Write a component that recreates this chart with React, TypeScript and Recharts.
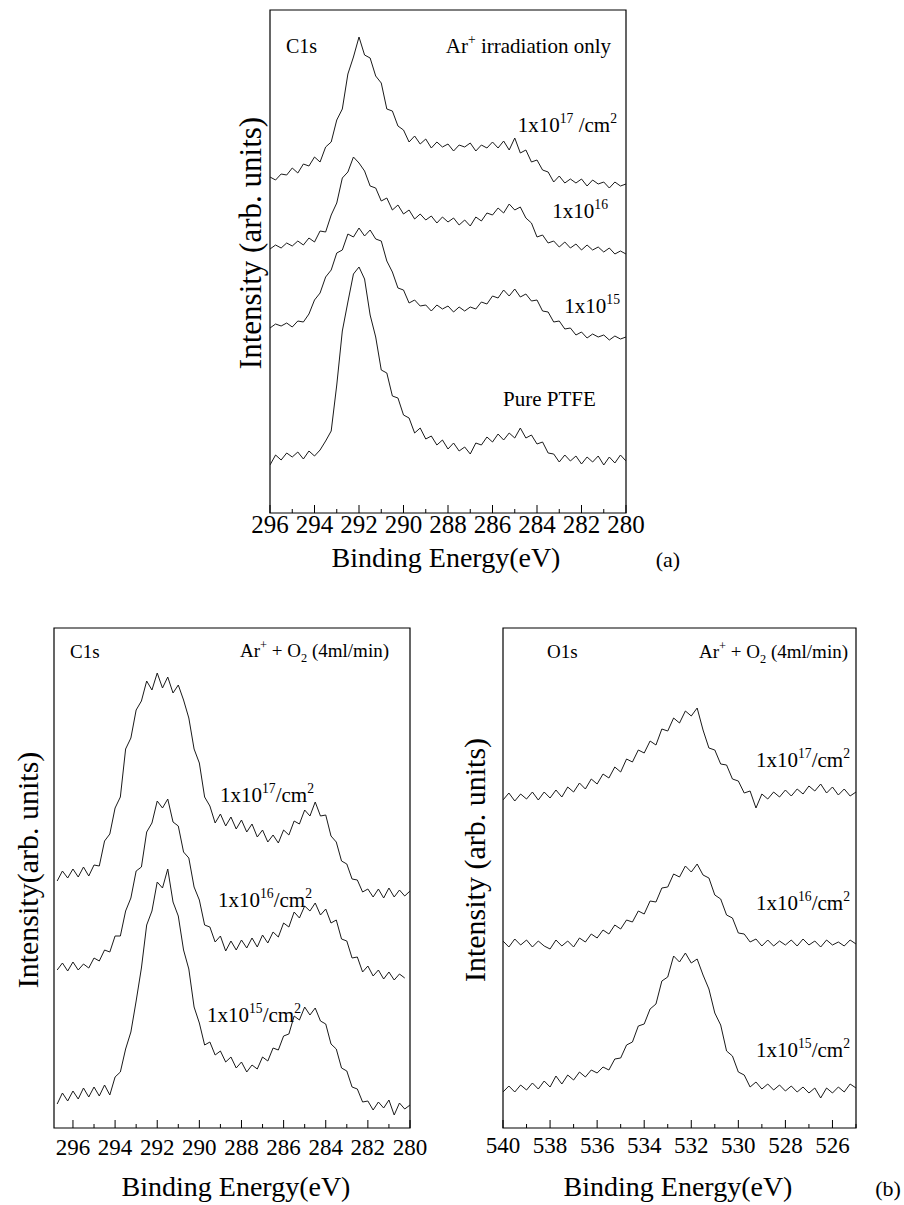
/**
 * XPS spectra of Ar+ irradiated PTFE - C1s / O1s stacked line plots
 */

import React from 'react'
import { LineChart, Line, XAxis, YAxis, ReferenceArea } from 'recharts'

const FONT = "'Liberation Serif', 'DejaVu Serif', serif"

// binding energy grids (eV), high -> low
const C1S_EV = [
  296.75, 296.5, 296.25, 296, 295.75, 295.5, 295.25, 295, 294.75, 294.5, 294.25, 294,
  293.75, 293.5, 293.25, 293, 292.75, 292.5, 292.25, 292, 291.75, 291.5, 291.25, 291,
  290.75, 290.5, 290.25, 290, 289.75, 289.5, 289.25, 289, 288.75, 288.5, 288.25, 288,
  287.75, 287.5, 287.25, 287, 286.75, 286.5, 286.25, 286, 285.75, 285.5, 285.25, 285,
  284.75, 284.5, 284.25, 284, 283.75, 283.5, 283.25, 283, 282.75, 282.5, 282.25, 282,
  281.75, 281.5, 281.25, 281, 280.75, 280.5, 280.25, 280,
]
const O1S_EV = [
  540, 539.75, 539.5, 539.25, 539, 538.75, 538.5, 538.25, 538, 537.75, 537.5, 537.25,
  537, 536.75, 536.5, 536.25, 536, 535.75, 535.5, 535.25, 535, 534.75, 534.5, 534.25,
  534, 533.75, 533.5, 533.25, 533, 532.75, 532.5, 532.25, 532, 531.75, 531.5, 531.25,
  531, 530.75, 530.5, 530.25, 530, 529.75, 529.5, 529.25, 529, 528.75, 528.5, 528.25,
  528, 527.75, 527.5, 527.25, 527, 526.75, 526.5, 526.25, 526, 525.75, 525.5, 525.25, 525,
]

const C1S_TICKS = [280, 281, 282, 283, 284, 285, 286, 287, 288, 289, 290, 291, 292, 293, 294, 295, 296]
const O1S_TICKS = [525, 526, 527, 528, 529, 530, 531, 532, 533, 534, 535, 536, 537, 538, 539, 540]

// (a) Ar+ irradiation only, C1s, 296 -> 280 eV (offset intensities, arb. units)
const A_1E17 = [
  336, 333, 339, 338, 345, 340, 349, 347, 356, 351, 366, 371, 393, 404, 439, 456, 476, 458, 455, 437,
  430, 404, 402, 387, 383, 371, 377, 369, 374, 365, 371, 366, 369, 362, 368, 366, 370, 362, 368, 365,
  371, 365, 372, 363, 375, 360, 363, 351, 353, 343, 341, 331, 337, 330, 334, 330, 334, 327, 333, 329,
  331, 325, 331, 327, 329,
]
const A_1E16 = [
  264, 268, 265, 270, 267, 272, 268, 275, 271, 282, 281, 298, 310, 335, 341, 356, 350, 342, 327, 325,
  312, 315, 303, 308, 299, 303, 294, 299, 293, 297, 290, 296, 291, 295, 288, 293, 287, 296, 292, 300,
  298, 305, 300, 309, 303, 306, 295, 290, 276, 278, 270, 272, 266, 271, 265, 269, 263, 268, 263, 266,
  261, 265, 259, 262, 259,
]
const A_1E15 = [
  185, 189, 187, 190, 186, 192, 191, 199, 213, 220, 236, 243, 260, 263, 279, 276, 285, 277, 283, 274,
  272, 252, 241, 225, 223, 210, 213, 207, 208, 202, 208, 204, 207, 201, 206, 202, 206, 204, 211, 209,
  217, 215, 223, 217, 224, 216, 219, 212, 213, 202, 201, 191, 192, 184, 185, 178, 181, 175, 179, 176,
  178, 173, 177, 174, 176,
]
const A_PTFE = [
  48, 58, 53, 60, 56, 61, 54, 62, 57, 63, 72, 82, 128, 182, 211, 239, 246, 234, 198, 176,
  143, 140, 117, 115, 98, 95, 80, 85, 74, 77, 68, 73, 64, 70, 62, 66, 59, 70, 68, 76,
  71, 79, 73, 80, 75, 85, 75, 78, 69, 71, 60, 59, 51, 58, 52, 57, 49, 56, 51, 57,
  48, 56, 50, 58, 52,
]

// (b) Ar+ + O2, C1s, 296.75 -> 280 eV
const BC_1E17 = [
  247, 257, 250, 259, 251, 261, 252, 263, 262, 287, 294, 320, 331, 379, 390, 418, 427, 447, 438, 455,
  440, 451, 435, 443, 428, 410, 379, 365, 331, 322, 305, 314, 302, 311, 299, 308, 296, 304, 291, 298,
  286, 293, 285, 298, 293, 307, 304, 318, 312, 326, 312, 313, 292, 286, 267, 264, 249, 248, 236, 239,
  231, 239, 230, 240, 231, 238, 232, 237,
]
const BC_1E16 = [
  158, 165, 157, 166, 158, 164, 160, 170, 167, 178, 176, 192, 192, 217, 230, 257, 261, 296, 305, 327,
  320, 329, 306, 302, 276, 270, 241, 228, 203, 201, 186, 192, 177, 187, 178, 188, 180, 190, 181, 193,
  185, 196, 191, 205, 201, 216, 210, 222, 217, 225, 213, 219, 205, 208, 189, 187, 170, 171, 156, 162,
  152, 158, 149, 156, 148, 154, 150, null,
]
const BC_1E15 = [
  24, 35, 27, 37, 29, 40, 31, 41, 32, 43, 33, 51, 56, 79, 96, 127, 160, 203, 217, 246,
  240, 259, 226, 212, 178, 159, 121, 105, 83, 86, 73, 77, 66, 71, 60, 66, 56, 63, 59, 71,
  67, 80, 78, 92, 94, 112, 108, 121, 113, 120, 107, 104, 84, 79, 60, 57, 41, 39, 26, 27,
  18, 26, 20, 28, 13, 25, 19, 23,
]

// (b) Ar+ + O2, O1s, 540 -> 525 eV
const BO_1E17 = [
  328, 335, 327, 334, 329, 336, 328, 336, 330, 338, 331, 341, 336, 345, 339, 349, 344, 354, 350, 361,
  356, 369, 366, 378, 375, 387, 383, 399, 397, 410, 405, 417, 412, 420, 398, 380, 378, 364, 363, 349,
  347, 335, 337, 320, 334, 329, 336, 331, 338, 332, 339, 334, 342, 337, 344, 335, 341, 333, 339, 332,
  336,
]
const BO_1E16 = [
  187, 181, 189, 183, 188, 181, 187, 182, 179, 188, 182, 187, 181, 190, 186, 194, 190, 198, 194, 203,
  199, 208, 206, 217, 214, 227, 226, 240, 241, 254, 251, 262, 256, 264, 253, 250, 233, 229, 213, 210,
  195, 194, 186, 189, 182, 188, 182, 187, 183, 188, 182, 189, 183, 187, 181, 188, 183, 186, 182, 188,
  184,
]
const BO_1E15 = [
  36, 42, 36, 43, 38, 45, 39, 47, 41, 52, 44, 53, 48, 56, 51, 58, 55, 61, 58, 69,
  70, 83, 86, 102, 104, 119, 124, 147, 151, 172, 166, 175, 165, 169, 153, 139, 115, 103, 77, 72,
  56, 53, 41, 46, 39, 44, 38, 43, 37, 42, 36, 41, 35, 40, 30, 40, 35, 41, 36, 44,
  40,
]

const rowsA = C1S_EV.slice(3).map((e, i) => ({
  e, s17: A_1E17[i], s16: A_1E16[i], s15: A_1E15[i], s0: A_PTFE[i],
}))
const rowsBC = C1S_EV.map((e, i) => ({ e, s17: BC_1E17[i], s16: BC_1E16[i], s15: BC_1E15[i] }))
const rowsBO = O1S_EV.map((e, i) => ({ e, s17: BO_1E17[i], s16: BO_1E16[i], s15: BO_1E15[i] }))

// inward ticks, labels only on even eV
const makeTick = (labelDy: number, size: number) => (props: any) => {
  const { x, y, payload } = props
  const v = payload.value
  const major = v % 2 === 0
  return (
    <g>
      <line x1={x} x2={x} y1={y} y2={y - (major ? 8 : 4)} stroke="#000" strokeWidth={1} />
      {major && (
        <text x={x} y={y + labelDy} textAnchor="middle" fill="#000"
          style={{ fontFamily: FONT, fontSize: size }}>
          {v}
        </text>
      )}
    </g>
  )
}

interface PanelProps {
  left: number
  top: number
  width: number
  height: number
  domain: [number, number]
  ticks: number[]
  data: any[]
  keys: string[]
  labelDy: number
  labelSize: number
}

const PAD = 24

const Panel: React.FC<PanelProps> = ({ left, top, width, height, domain, ticks, data, keys, labelDy, labelSize }) => (
  <div style={{ position: 'absolute', left: left - PAD, top: top - 5 }}>
    <LineChart
      width={width + PAD * 2}
      height={height + 5 + 50}
      data={data}
      margin={{ top: 5, right: PAD, bottom: 0, left: PAD }}
    >
      <XAxis
        dataKey="e"
        type="number"
        domain={domain}
        reversed
        ticks={ticks}
        interval={0}
        axisLine={false}
        tickLine={false}
        tickSize={0}
        tickMargin={0}
        height={50}
        tick={makeTick(labelDy, labelSize)}
        allowDataOverflow
      />
      <YAxis hide type="number" domain={[0, height]} allowDataOverflow />
      <ReferenceArea
        x1={domain[0]}
        x2={domain[1]}
        y1={0}
        y2={height}
        fill="none"
        fillOpacity={0}
        stroke="#000"
        strokeWidth={1.2}
      />
      {keys.map((k) => (
        <Line
          key={k}
          dataKey={k}
          type="linear"
          stroke="#1a1a1a"
          strokeWidth={1}
          dot={false}
          isAnimationActive={false}
          connectNulls={false}
        />
      ))}
    </LineChart>
  </div>
)

const sup = (size: number, s: string, after: string) => [
  <tspan key="a" dy={-size * 0.42} fontSize={size * 0.65}>{s}</tspan>,
  <tspan key="b" dy={size * 0.42}>{after}</tspan>,
]

const Dose = ({ x, y, exp, unit, size = 21, anchor = 'start' }: any) => (
  <text x={x} y={y} fontSize={size} textAnchor={anchor}>
    1x10
    <tspan dy={-size * 0.42} fontSize={size * 0.65}>{exp}</tspan>
    {unit ? (
      <>
        <tspan dy={size * 0.42}>{unit}</tspan>
        <tspan dy={-size * 0.42} fontSize={size * 0.65}>2</tspan>
      </>
    ) : null}
  </text>
)

const ArO2 = ({ x, y, size = 19 }: any) => (
  <text x={x} y={y} fontSize={size} textAnchor="end">
    Ar
    {sup(size, '+', ' + O')}
    <tspan dy={size * 0.28} fontSize={size * 0.65}>2</tspan>
    <tspan dy={-size * 0.28}> (4ml/min)</tspan>
  </text>
)

export default function App() {
  return (
    <div style={{ position: 'absolute', left: 0, top: 0, width: 904, height: 1205, background: '#fff', fontFamily: FONT }}>
      <Panel left={270} top={10} width={356} height={503} domain={[280, 296]} ticks={C1S_TICKS}
        data={rowsA} keys={['s17', 's16', 's15', 's0']} labelDy={20} labelSize={25} />
      <Panel left={54} top={628} width={356} height={500} domain={[280, 296.9]} ticks={C1S_TICKS}
        data={rowsBC} keys={['s17', 's16', 's15']} labelDy={27} labelSize={23} />
      <Panel left={503} top={628} width={353} height={500} domain={[525, 540]} ticks={O1S_TICKS}
        data={rowsBO} keys={['s17', 's16', 's15']} labelDy={25} labelSize={23} />

      <svg width={904} height={1205} style={{ position: 'absolute', left: 0, top: 0, pointerEvents: 'none', fontFamily: FONT }}
        fill="#000">
        {/* panel (a) */}
        <text x={286} y={53} fontSize={20}>C1s</text>
        <text x={611} y={53} fontSize={21} textAnchor="end">
          Ar{sup(21, '+', ' irradiation only')}
        </text>
        <Dose x={617} y={132} exp="17" unit=" /cm" anchor="end" />
        <Dose x={608} y={218} exp="16" anchor="end" />
        <Dose x={620} y={313} exp="15" anchor="end" />
        <text x={503} y={406} fontSize={21}>Pure PTFE</text>
        <text x={446} y={567} fontSize={28} textAnchor="middle">Binding Energy(eV)</text>
        <text x={668} y={567} fontSize={22} textAnchor="middle">(a)</text>
        <text transform="translate(261,243) rotate(-90)" fontSize={31} textAnchor="middle">
          Intensity (arb. units)
        </text>

        {/* panel (b) C1s */}
        <text x={70} y={658} fontSize={19}>C1s</text>
        <ArO2 x={389} y={657} />
        <Dose x={220} y={802} exp="17" unit="/cm" />
        <Dose x={218} y={907} exp="16" unit="/cm" />
        <Dose x={207} y={1022} exp="15" unit="/cm" />
        <text x={236} y={1196} fontSize={28} textAnchor="middle">Binding Energy(eV)</text>
        <text transform="translate(38,870) rotate(-90)" fontSize={30} textAnchor="middle">
          Intensity(arb. units)
        </text>

        {/* panel (b) O1s */}
        <text x={547} y={658} fontSize={19}>O1s</text>
        <ArO2 x={848} y={658} />
        <Dose x={850} y={767} exp="17" unit="/cm" anchor="end" />
        <Dose x={850} y={910} exp="16" unit="/cm" anchor="end" />
        <Dose x={850} y={1057} exp="15" unit="/cm" anchor="end" />
        <text x={678} y={1196} fontSize={28} textAnchor="middle">Binding Energy(eV)</text>
        <text x={888} y={1196} fontSize={22} textAnchor="middle">(b)</text>
        <text transform="translate(485,860) rotate(-90)" fontSize={30} textAnchor="middle">
          Intensity (arb. units)
        </text>
      </svg>
    </div>
  )
}
